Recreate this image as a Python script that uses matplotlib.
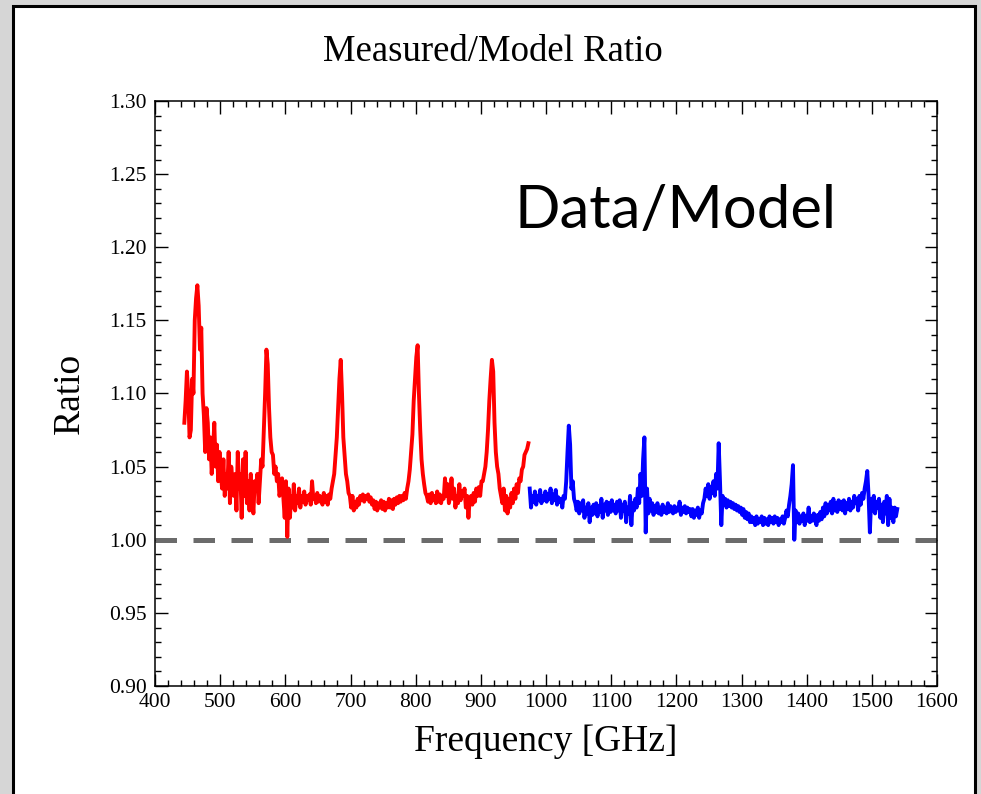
import numpy as np
import matplotlib
matplotlib.use("Agg")
import matplotlib.pyplot as plt
from matplotlib.patches import Rectangle
from matplotlib.ticker import MultipleLocator, FormatStrFormatter

# ---------------- data ----------------
# red series: 445 GHz onward, one value every 2 GHz (rows of 20 GHz)
red_start, red_step = 445, 2
red_ratio = [
    1.080, 1.095, 1.115, 1.100, 1.070, 1.075, 1.110, 1.100, 1.150, 1.165,
    1.174, 1.160, 1.130, 1.145, 1.100, 1.085, 1.060, 1.090, 1.080, 1.055,
    1.070, 1.045, 1.060, 1.080, 1.050, 1.065, 1.040, 1.060, 1.045, 1.035,
    1.055, 1.030, 1.045, 1.035, 1.060, 1.025, 1.050, 1.040, 1.030, 1.045,
    1.020, 1.060, 1.035, 1.045, 1.015, 1.055, 1.030, 1.060, 1.025, 1.040,
    1.020, 1.045, 1.030, 1.018, 1.040, 1.035, 1.045, 1.025, 1.040, 1.055,
    1.050, 1.075, 1.100, 1.130, 1.120, 1.090, 1.070, 1.060, 1.058, 1.045,
    1.050, 1.040, 1.045, 1.030, 1.035, 1.042, 1.028, 1.015, 1.040, 1.002,
    1.035, 1.015, 1.030, 1.022, 1.038, 1.020, 1.030, 1.025, 1.035, 1.022,
    1.030, 1.026, 1.033, 1.024, 1.030, 1.027, 1.031, 1.024, 1.040, 1.028,
    1.030, 1.025, 1.032, 1.026, 1.030, 1.028, 1.024, 1.032, 1.026, 1.030,
    1.024, 1.031, 1.028, 1.035, 1.040, 1.045, 1.058, 1.070, 1.090, 1.110,
    1.123, 1.100, 1.070, 1.058, 1.045, 1.040, 1.032, 1.030, 1.022, 1.030,
    1.020, 1.026, 1.022, 1.028, 1.024, 1.030, 1.027, 1.031, 1.026, 1.030,
    1.028, 1.031, 1.026, 1.029, 1.024, 1.027, 1.021, 1.026, 1.020, 1.025,
    1.022, 1.027, 1.021, 1.026, 1.020, 1.025, 1.022, 1.028, 1.022, 1.027,
    1.021, 1.028, 1.024, 1.029, 1.025, 1.030, 1.026, 1.030, 1.027, 1.032,
    1.028, 1.035, 1.040, 1.048, 1.060, 1.072, 1.095, 1.110, 1.125, 1.133,
    1.100, 1.075, 1.055, 1.045, 1.038, 1.032, 1.030, 1.026, 1.031, 1.025,
    1.032, 1.027, 1.030, 1.025, 1.033, 1.026, 1.031, 1.025, 1.030, 1.028,
    1.042, 1.030, 1.038, 1.025, 1.030, 1.042, 1.028, 1.035, 1.022, 1.030,
    1.025, 1.038, 1.027, 1.033, 1.030, 1.035, 1.022, 1.030, 1.015, 1.028,
    1.030, 1.024, 1.032, 1.026, 1.035, 1.030, 1.036, 1.030, 1.040, 1.040,
    1.045, 1.050, 1.060, 1.075, 1.095, 1.110, 1.123, 1.115, 1.080, 1.060,
    1.050, 1.045, 1.035, 1.030, 1.025, 1.035, 1.020, 1.030, 1.018, 1.028,
    1.022, 1.032, 1.025, 1.035, 1.028, 1.038, 1.032, 1.042, 1.040, 1.048,
    1.050, 1.058, 1.060, 1.062, 1.066,
]

# blue series: 975 GHz onward, one value every 2 GHz (rows of 20 GHz)
blue_start, blue_step = 975, 2
blue_ratio = [
    1.035, 1.022, 1.030, 1.026, 1.033, 1.024, 1.030, 1.027, 1.034, 1.025,
    1.030, 1.027, 1.033, 1.026, 1.031, 1.028, 1.035, 1.025, 1.031, 1.027,
    1.034, 1.024, 1.029, 1.026, 1.028, 1.022, 1.030, 1.028, 1.040, 1.060,
    1.078, 1.065, 1.035, 1.040, 1.028, 1.025, 1.020, 1.026, 1.018, 1.025,
    1.020, 1.027, 1.015, 1.022, 1.018, 1.025, 1.012, 1.022, 1.017, 1.024,
    1.018, 1.025, 1.016, 1.023, 1.019, 1.028, 1.015, 1.024, 1.020, 1.026,
    1.017, 1.025, 1.019, 1.027, 1.020, 1.024, 1.018, 1.026, 1.020, 1.027,
    1.015, 1.024, 1.020, 1.026, 1.012, 1.022, 1.018, 1.030, 1.010, 1.025,
    1.020, 1.028, 1.022, 1.035, 1.025, 1.045, 1.030, 1.055, 1.070, 1.005,
    1.035, 1.018, 1.028, 1.020, 1.025, 1.017, 1.023, 1.019, 1.025, 1.018,
    1.022, 1.017, 1.024, 1.019, 1.022, 1.018, 1.025, 1.019, 1.023, 1.020,
    1.018, 1.023, 1.019, 1.022, 1.020, 1.026, 1.017, 1.022, 1.019, 1.023,
    1.018, 1.022, 1.019, 1.021, 1.016, 1.021, 1.015, 1.020, 1.017, 1.022,
    1.015, 1.020, 1.018, 1.025, 1.028, 1.035, 1.030, 1.038, 1.028, 1.036,
    1.032, 1.040, 1.030, 1.045, 1.035, 1.066, 1.040, 1.010, 1.030, 1.024,
    1.028, 1.022, 1.027, 1.023, 1.026, 1.022, 1.025, 1.021, 1.024, 1.020,
    1.023, 1.019, 1.022, 1.017, 1.021, 1.015, 1.019, 1.014, 1.018, 1.012,
    1.016, 1.012, 1.015, 1.010, 1.016, 1.011, 1.014, 1.012, 1.016, 1.010,
    1.015, 1.011, 1.014, 1.010, 1.016, 1.012, 1.015, 1.011, 1.016, 1.012,
    1.015, 1.010, 1.014, 1.012, 1.016, 1.011, 1.015, 1.020, 1.016, 1.024,
    1.030, 1.038, 1.051, 1.000, 1.020, 1.012, 1.018, 1.011, 1.016, 1.013,
    1.018, 1.010, 1.016, 1.013, 1.022, 1.012, 1.016, 1.013, 1.018, 1.014,
    1.010, 1.017, 1.013, 1.019, 1.014, 1.022, 1.016, 1.025, 1.018, 1.024,
    1.020, 1.026, 1.018, 1.028, 1.020, 1.025, 1.019, 1.027, 1.021, 1.026,
    1.020, 1.027, 1.018, 1.025, 1.021, 1.028, 1.020, 1.026, 1.022, 1.030,
    1.025, 1.028, 1.020, 1.030, 1.024, 1.032, 1.028, 1.035, 1.040, 1.047,
    1.030, 1.005, 1.028, 1.020, 1.030, 1.018, 1.026, 1.022, 1.028, 1.015,
    1.024, 1.012, 1.026, 1.018, 1.030, 1.010, 1.028, 1.015, 1.022, 1.012,
    1.022, 1.016, 1.021,
]

reference_level = 1.00
x_ticks = [400, 500, 600, 700, 800, 900, 1000, 1100, 1200, 1300, 1400, 1500, 1600]
y_ticks = [0.90, 0.95, 1.00, 1.05, 1.10, 1.15, 1.20, 1.25, 1.30]

title_text = "Measured/Model Ratio"
x_label = "Frequency [GHz]"
y_label = "Ratio"
note_text = "Data/Model"

red_freq = red_start + red_step * np.arange(len(red_ratio))
blue_freq = blue_start + blue_step * np.arange(len(blue_ratio))

# ---------------- figure ----------------
W, H = 981, 794
fig = plt.figure(figsize=(W / 100, H / 100), dpi=100)
fig.patch.set_facecolor("#d6d6d6")

panel = Rectangle((13 / W, -0.05), (975 - 13) / W, (794 - 6) / H + 0.05,
                  transform=fig.transFigure, facecolor="white",
                  edgecolor="black", linewidth=2.2, zorder=-10)
fig.patches.append(panel)

ax = fig.add_axes([155 / W, 1 - 686 / H, (937 - 155) / W, (686 - 101) / H])
ax.set_zorder(5)
ax.set_facecolor("white")

serif = ["Liberation Serif", "DejaVu Serif"]

ax.axhline(reference_level, color="#6b6b6b", linewidth=3.6,
           linestyle=(0, (4.3, 3.3)), zorder=2)
ax.plot(red_freq, red_ratio, color="#ff0000", linewidth=2.8, zorder=3)
ax.plot(blue_freq, blue_ratio, color="#0000ff", linewidth=2.8, zorder=3)

ax.set_xlim(x_ticks[0], x_ticks[-1])
ax.set_ylim(y_ticks[0], y_ticks[-1])
ax.set_xticks(x_ticks)
ax.set_yticks(y_ticks)
ax.xaxis.set_minor_locator(MultipleLocator(20))
ax.yaxis.set_minor_locator(MultipleLocator(0.01))
ax.yaxis.set_major_formatter(FormatStrFormatter("%.2f"))

ax.tick_params(which="both", direction="in", top=True, right=True,
               width=1.0, color="black")
ax.tick_params(which="major", length=9, labelsize=15.5)
ax.tick_params(axis="x", which="major", pad=5)
ax.tick_params(axis="y", which="major", pad=6)
ax.tick_params(which="minor", length=4.5)
for lab in ax.get_xticklabels() + ax.get_yticklabels():
    lab.set_family(serif)
for sp in ax.spines.values():
    sp.set_linewidth(1.1)

fig.text(493 / W, 1 - 52 / H, title_text, family=serif, fontsize=26.5,
         ha="center", va="center")
ax.set_xlabel(x_label, family=serif, fontsize=27, labelpad=9)
ax.set_ylabel(y_label, family=serif, fontsize=27, labelpad=16)

ax.text(0.46, 0.783, note_text, transform=ax.transAxes, family=["Lato", "DejaVu Sans"],
        fontsize=43, ha="left", va="baseline", color="black")

fig.savefig("out.png", dpi=100, facecolor=fig.get_facecolor())
